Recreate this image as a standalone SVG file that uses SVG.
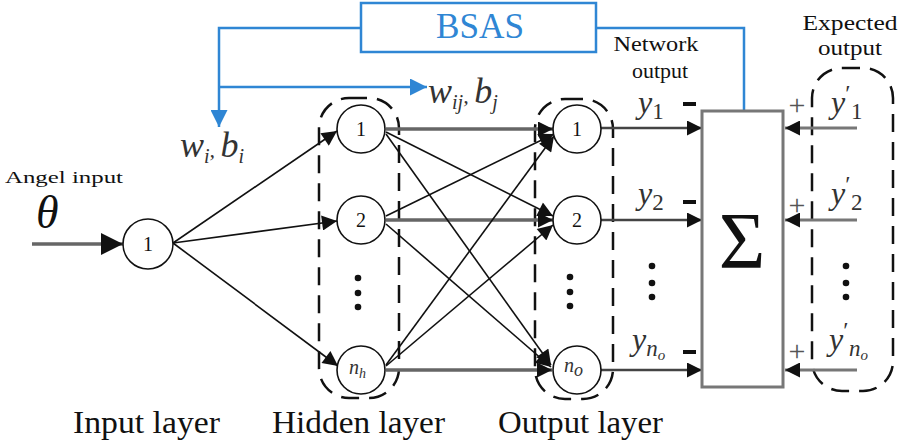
<svg xmlns="http://www.w3.org/2000/svg" width="900" height="445" viewBox="0 0 900 445">
<style>
text{font-family:"Liberation Serif","Times New Roman",serif;fill:#111}
.it{font-style:italic}
.node{fill:#fff;stroke:#111;stroke-width:1.6}
.nl{font-size:20px;text-anchor:middle}
.dash{fill:none;stroke:#111;stroke-width:2.5;stroke-dasharray:18 10}
.ln{stroke:#111;stroke-width:1.6;fill:none}
.hz{stroke:#666;stroke-width:3.5;fill:none}
.out{stroke:#444;stroke-width:2.5;fill:none}
.exp{stroke:#777;stroke-width:3;fill:none}
.blue{stroke:#2f86d4;stroke-width:2.5;fill:none}
.dot{fill:#111}
.pl{font-size:30px;text-anchor:middle;fill:#555}
</style>
<defs>
<marker id="ah" viewBox="0 0 10 10" refX="10" refY="5" markerWidth="18" markerHeight="15" orient="auto" markerUnits="userSpaceOnUse"><path d="M0,0 L10,5 L0,10 z" fill="#111"/></marker>
<marker id="ahBig" viewBox="0 0 10 10" refX="10" refY="5" markerWidth="22" markerHeight="24" orient="auto" markerUnits="userSpaceOnUse"><path d="M0,0 L10,5 L0,10 z" fill="#111"/></marker>
<marker id="ahB" viewBox="0 0 10 10" refX="10" refY="5" markerWidth="17" markerHeight="17" orient="auto" markerUnits="userSpaceOnUse"><path d="M0,0 L10,5 L0,10 z" fill="#2f86d4"/></marker>
</defs>

<g id="groups">
<rect class="dash" x="319" y="98" width="80" height="300" rx="30"/>
<rect class="dash" x="535" y="99" width="78" height="300" rx="30"/>
<rect class="dash" x="812" y="68" width="81" height="323" rx="30"/>
</g>

<g id="connectors">
<line class="hz" x1="32" y1="244" x2="123" y2="244" stroke="#222" marker-end="url(#ahBig)"/>
<line class="ln" x1="173" y1="243" x2="337" y2="131" marker-end="url(#ah)"/>
<line class="ln" x1="173" y1="243" x2="337" y2="221" marker-end="url(#ah)"/>
<line class="ln" x1="173" y1="243" x2="338" y2="366" marker-end="url(#ah)"/>
<line class="hz" x1="386" y1="129" x2="553" y2="129" marker-end="url(#ah)"/>
<line class="hz" x1="386" y1="220" x2="553" y2="220" marker-end="url(#ah)"/>
<line class="hz" x1="386" y1="370" x2="552" y2="370" marker-end="url(#ah)"/>
<line class="ln" x1="386" y1="132" x2="553" y2="216" marker-end="url(#ah)"/>
<line class="ln" x1="386" y1="134" x2="551" y2="365" marker-end="url(#ah)"/>
<line class="ln" x1="386" y1="216" x2="554" y2="134" marker-end="url(#ah)"/>
<line class="ln" x1="386" y1="224" x2="551" y2="367" marker-end="url(#ah)"/>
<line class="ln" x1="386" y1="365" x2="554" y2="136" marker-end="url(#ah)"/>
<line class="ln" x1="386" y1="366" x2="553" y2="225" marker-end="url(#ah)"/>
<line class="out" x1="601" y1="128" x2="702" y2="128" marker-end="url(#ah)"/>
<line class="out" x1="601" y1="220" x2="702" y2="220" marker-end="url(#ah)"/>
<line class="out" x1="601" y1="370" x2="702" y2="370" marker-end="url(#ah)"/>
<line class="exp" x1="857" y1="128" x2="785" y2="128" marker-end="url(#ah)"/>
<line class="exp" x1="857" y1="220" x2="785" y2="220" marker-end="url(#ah)"/>
<line class="exp" x1="857" y1="370" x2="785" y2="370" marker-end="url(#ah)"/>
<path class="blue" d="M361,28 H219 V127" marker-end="url(#ahB)"/>
<path class="blue" d="M219,87 H427" marker-end="url(#ahB)"/>
<path class="blue" d="M596,28 H744 V111"/>
</g>

<g id="bsas">
<rect x="361" y="3" width="235" height="49" fill="#fff" stroke="#2f86d4" stroke-width="2.5"/>
<text x="480" y="38" font-size="35" text-anchor="middle" textLength="88" lengthAdjust="spacingAndGlyphs" style="fill:#2f86d4">BSAS</text>
</g>

<g id="input-node">
<circle class="node" cx="148" cy="244" r="25"/>
<text class="nl" x="148" y="251">1</text>
</g>

<g id="hidden-1"><circle class="node" cx="361" cy="129" r="24"/><text class="nl" x="361" y="136">1</text></g>
<g id="hidden-2"><circle class="node" cx="361" cy="220" r="24"/><text class="nl" x="361" y="227">2</text></g>
<g id="hidden-nh"><circle class="node" cx="361" cy="370" r="24"/><text class="it" x="349" y="374" font-size="20" style="fill:#333">n<tspan font-size="14" dy="4">h</tspan></text></g>

<g id="output-1"><circle class="node" cx="577" cy="129" r="24"/><text class="nl" x="577" y="136">1</text></g>
<g id="output-2"><circle class="node" cx="577" cy="220" r="24"/><text class="nl" x="577" y="227">2</text></g>
<g id="output-no"><circle class="node" cx="577" cy="370" r="24"/><text class="it" x="564" y="372" font-size="20" style="fill:#333">n<tspan font-size="18" dy="4">o</tspan></text></g>

<g id="sigma">
<rect x="702" y="111" width="81" height="276" fill="#fff" stroke="#777" stroke-width="3"/>
<text x="742" y="268" font-size="80" text-anchor="middle">Σ</text>
</g>

<g id="dots">
<circle class="dot" cx="358" cy="278" r="3.3"/><circle class="dot" cx="358" cy="293" r="3.3"/><circle class="dot" cx="358" cy="307" r="3.3"/>
<circle class="dot" cx="570" cy="277" r="3.3"/><circle class="dot" cx="570" cy="292" r="3.3"/><circle class="dot" cx="570" cy="306" r="3.3"/>
<circle class="dot" cx="652" cy="266" r="3.3"/><circle class="dot" cx="652" cy="283" r="3.3"/><circle class="dot" cx="652" cy="297" r="3.3"/>
<circle class="dot" cx="846" cy="266" r="3.3"/><circle class="dot" cx="846" cy="283" r="3.3"/><circle class="dot" cx="846" cy="297" r="3.3"/>
</g>

<g id="labels">
<text x="5" y="183" font-size="17" textLength="118" lengthAdjust="spacingAndGlyphs">Angel input</text>
<text class="it" x="36" y="228" font-size="46">θ</text>
<text class="it" x="180" y="157" font-size="36" style="fill:#333">w<tspan font-size="20" dy="6">i</tspan><tspan font-size="22" dy="-6">, </tspan><tspan font-size="36">b</tspan><tspan font-size="20" dy="6">i</tspan></text>
<text class="it" x="428" y="103" font-size="36" style="fill:#333">w<tspan font-size="20" dy="6">ij</tspan><tspan font-size="22" dy="-6">, </tspan><tspan font-size="36">b</tspan><tspan font-size="20" dy="6">j</tspan></text>

<text x="656" y="51" font-size="20" text-anchor="middle" textLength="85" lengthAdjust="spacingAndGlyphs">Network</text>
<text x="660" y="78" font-size="20" text-anchor="middle" textLength="56" lengthAdjust="spacingAndGlyphs">output</text>
<text x="850" y="30" font-size="20" text-anchor="middle" textLength="95" lengthAdjust="spacingAndGlyphs">Expected</text>
<text x="850" y="55" font-size="20" text-anchor="middle" textLength="64" lengthAdjust="spacingAndGlyphs">output</text>

<text class="it" x="638" y="113" font-size="32" style="fill:#333">y<tspan font-size="23" font-style="normal" dy="6">1</tspan></text>
<text class="it" x="638" y="204" font-size="32" style="fill:#333">y<tspan font-size="23" font-style="normal" dy="6">2</tspan></text>
<text class="it" x="632" y="350" font-size="32" style="fill:#333">y<tspan font-size="23" dy="6">n</tspan><tspan font-size="15" dy="4">o</tspan></text>

<text class="it" x="831" y="113" font-size="32" style="fill:#333">y<tspan font-size="24" font-style="normal" dy="-12">′</tspan><tspan x="851" font-size="23" font-style="normal" dy="18">1</tspan></text>
<text class="it" x="831" y="204" font-size="32" style="fill:#333">y<tspan font-size="24" font-style="normal" dy="-12">′</tspan><tspan x="851" font-size="23" font-style="normal" dy="18">2</tspan></text>
<text class="it" x="829" y="350" font-size="32" style="fill:#333">y<tspan font-size="24" font-style="normal" dy="-12">′</tspan><tspan x="849" font-size="23" dy="18">n</tspan><tspan font-size="15" dy="4">o</tspan></text>

<rect x="683" y="102" width="13" height="4" fill="#111"/>
<rect x="683" y="200" width="13" height="4" fill="#111"/>
<rect x="683" y="350" width="13" height="4" fill="#111"/>
<text class="pl" x="797" y="115">+</text>
<text class="pl" x="797" y="215">+</text>
<text class="pl" x="797" y="361">+</text>

<text x="73" y="433" font-size="32" textLength="147" lengthAdjust="spacingAndGlyphs">Input layer</text>
<text x="272" y="433" font-size="32" textLength="173" lengthAdjust="spacingAndGlyphs">Hidden layer</text>
<text x="498" y="433" font-size="32" textLength="165" lengthAdjust="spacingAndGlyphs">Output layer</text>
</g>
</svg>
